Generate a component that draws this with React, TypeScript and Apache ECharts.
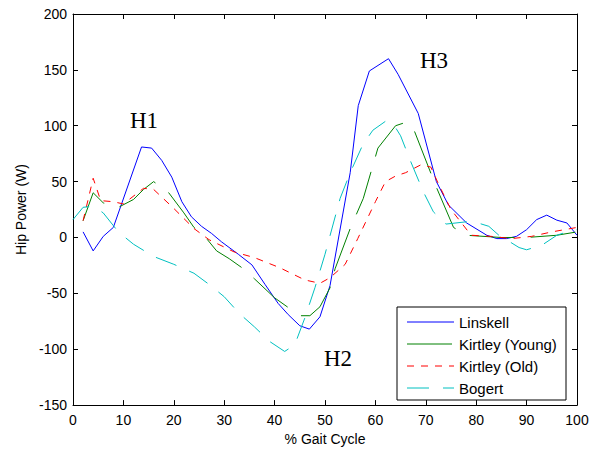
import React, { useEffect, useRef } from "react";
import * as echarts from "echarts";

const seriesNames = ["Linskell", "Kirtley (Young)", "Kirtley (Old)", "Bogert"];
const seriesColors = ["#0000ff", "#008000", "#ff0000", "#00c0c0"];
const seriesDashes: any[] = ["solid", [45, 16], [7, 7], [22, 14]];

const linskell: [number, number][] = [
  [2, 5], [4, -12], [6, 1], [8, 9], [13.6, 81], [15.6, 80], [17.6, 69], [19.6, 54],
  [21.6, 32], [23.5, 18.5], [25.5, 10], [27.5, 3.6], [29.5, -4], [32.8, -15],
  [35.5, -24.5], [38.1, -42], [40.7, -59], [42.7, -69], [45, -79], [46.9, -82],
  [49, -71], [51, -43], [55, 58], [56.6, 118], [58.8, 149], [62.6, 160], [64.5, 146],
  [68.5, 111], [72.1, 50], [74.5, 29], [78.1, 13], [82.1, 2], [84.1, -1], [86, -1],
  [88, 1], [90, 7], [92, 16], [94, 20], [96, 15.5], [98, 13], [100, 2],
];

const kirtleyYoung: [number, number][] = [
  [2, 15], [4, 40], [6, 31], [9, 27], [12, 34], [14, 43], [16, 50], [19, 40],
  [22, 22], [24, 9], [26.5, -1], [28.5, -12], [31, -19], [33.5, -27], [36, -37],
  [40, -54], [42.5, -62], [45, -70], [47, -70], [49, -62], [51, -45], [52, -28],
  [55, 8], [57.6, 35], [60.5, 80], [64, 100], [66, 103], [67.5, 98], [72, 46],
  [75.5, 9], [78, 2], [85, 0], [90, 0], [96, 2], [100, 5],
];

const kirtleyOld: [number, number][] = [
  [2, 15], [4, 53], [5.5, 33], [8, 32], [10, 30], [14, 44], [16, 43], [20, 26],
  [24, 8], [27, -2], [32, -13], [36, -18], [41, -27], [46, -38], [49, -41],
  [51, -36], [54, -24], [56.5, -1], [60, 32], [62, 50], [64, 55], [66, 58],
  [69, 65], [71, 63], [72.5, 48], [75, 25], [79, 2], [83, 1], [87, -1], [91, 1],
  [95, 5], [100, 9],
];

const bogert: [number, number][] = [
  [0, 16], [2, 27], [4, 28], [6, 22], [9, 5], [12, -6], [16, -17], [20, -24],
  [24, -32], [27, -42], [30, -53], [33, -68], [36, -80], [39, -93], [42, -102],
  [44, -96], [46, -72], [48, -45], [50, -15], [53, 35], [55, 58], [57.5, 83],
  [59.5, 96], [62, 104], [63.5, 102], [65, 91], [67, 68], [69.5, 41], [71.5, 23],
  [74, 12], [78, 14], [80, 13.5], [82.5, 10], [84.5, 2], [86, -2], [88.5, -9],
  [90, -11], [93, -7], [96, 2], [98, 5], [100, 7],
];

const seriesData = [linskell, kirtleyYoung, kirtleyOld, bogert];

const annotations = [
  { text: "H1", x: 130, y: 120 },
  { text: "H2", x: 324, y: 358 },
  { text: "H3", x: 420, y: 60 },
];

const xMin = 0, xMax = 100, xStep = 10;
const yMin = -150, yMax = 200, yStep = 50;

const FONT = "'Liberation Sans', Arial, Helvetica, sans-serif";

export default function App() {
  const ref = useRef<HTMLDivElement>(null);
  useEffect(() => {
    if (!ref.current) return;
    const chart = echarts.init(ref.current, null, { renderer: "svg" });
    const axisCommon = {
      axisLine: { show: true, onZero: false, lineStyle: { color: "#000", width: 1 } },
      axisTick: { show: true, inside: true, length: 5, lineStyle: { color: "#000" } },
      splitLine: { show: false },
    };

    // manual legend box (MATLAB style)
    const lgX = 397, lgY = 307, lgW = 169, lgH = 93;
    const legendChildren: any[] = [
      {
        type: "rect",
        shape: { x: lgX, y: lgY, width: lgW, height: lgH },
        style: { fill: "#fff", stroke: "#000", lineWidth: 1 },
      },
    ];
    seriesNames.forEach((name, i) => {
      const cy = 322 + i * 22;
      legendChildren.push({
        type: "line",
        shape: { x1: 407, y1: cy, x2: 454, y2: cy },
        style: {
          stroke: seriesColors[i],
          lineWidth: 1,
          lineDash: seriesDashes[i] === "solid" ? null : seriesDashes[i],
        },
      });
      legendChildren.push({
        type: "text",
        x: 459,
        y: cy,
        style: {
          text: name,
          fill: "#000",
          fontSize: 15,
          fontFamily: FONT,
          verticalAlign: "middle",
          align: "left",
        },
      });
    });

    chart.setOption({
      animation: false,
      backgroundColor: "#fff",
      grid: { left: 73, right: 18, top: 14, bottom: 43, show: false },
      xAxis: [
        {
          type: "value", min: xMin, max: xMax, interval: xStep, position: "bottom",
          ...axisCommon,
          axisLabel: { color: "#000", fontSize: 14, fontFamily: FONT, margin: 8 },
          name: "% Gait Cycle", nameLocation: "middle", nameGap: 26,
          nameTextStyle: { color: "#000", fontSize: 14, fontFamily: FONT },
        },
        {
          type: "value", min: xMin, max: xMax, interval: xStep, position: "top",
          ...axisCommon, axisLabel: { show: false },
        },
      ],
      yAxis: [
        {
          type: "value", min: yMin, max: yMax, interval: yStep, position: "left",
          ...axisCommon,
          axisLabel: { color: "#000", fontSize: 14, fontFamily: FONT, margin: 6 },
          name: "Hip Power (W)", nameLocation: "middle", nameGap: 44,
          nameTextStyle: { color: "#000", fontSize: 14, fontFamily: FONT },
        },
        {
          type: "value", min: yMin, max: yMax, interval: yStep, position: "right",
          ...axisCommon, axisLabel: { show: false },
        },
      ],
      series: seriesNames.map((name, i) => ({
        name,
        type: "line",
        data: seriesData[i],
        symbol: "none",
        showSymbol: false,
        xAxisIndex: 0,
        yAxisIndex: 0,
        lineStyle: { color: seriesColors[i], width: 1, type: seriesDashes[i] },
        itemStyle: { color: seriesColors[i] },
        emphasis: { disabled: true },
      })),
      graphic: [
        ...annotations.map((a) => ({
          type: "text",
          x: a.x,
          y: a.y,
          style: {
            text: a.text,
            fill: "#000",
            fontSize: 23,
            fontFamily: "'Liberation Serif', 'Times New Roman', serif",
            verticalAlign: "middle",
            align: "left",
          },
        })),
        { type: "group", children: legendChildren },
      ],
    });
    return () => chart.dispose();
  }, []);
  return <div ref={ref} style={{ width: 595, height: 451, position: "absolute", left: 0, top: 0 }} />;
}
